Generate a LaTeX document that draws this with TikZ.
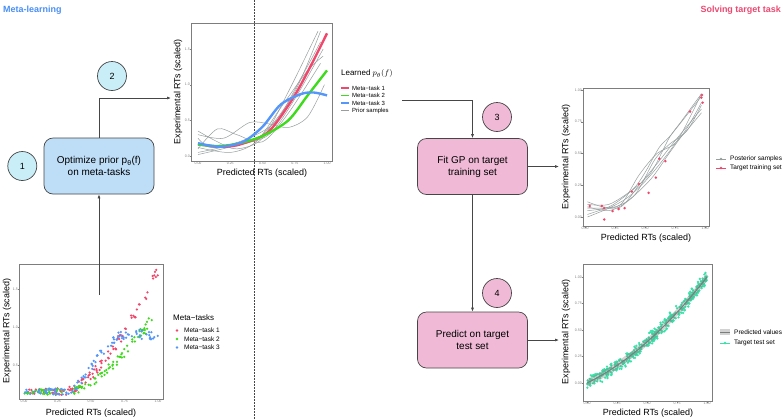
\documentclass[tikz,border=0pt]{standalone}
\usepackage{fontspec}
\setmainfont{Liberation Sans}
\usepackage{xcolor}
\definecolor{metablue}{RGB}{72,142,245}
\definecolor{targetpink}{RGB}{236,72,112}
\definecolor{boxblue}{RGB}{190,222,248}
\definecolor{boxpink}{RGB}{240,186,215}
\definecolor{numblue}{RGB}{202,238,248}
\definecolor{edgegray}{RGB}{70,70,70}
\definecolor{taskred}{RGB}{240,72,108}
\definecolor{taskgreen}{RGB}{62,218,28}
\definecolor{taskblue}{RGB}{84,150,250}
\definecolor{samplegray}{RGB}{150,158,158}
\definecolor{testteal}{RGB}{56,226,168}
\definecolor{framegray}{RGB}{125,125,125}
\usetikzlibrary{positioning,arrows.meta}

\begin{document}
\begin{tikzpicture}[x=1bp,y=-1bp,
    task/.style={draw=edgegray,rounded corners=9bp,minimum width=110bp,
      minimum height=56bp,align=center,line width=0.7bp,
      font=\fontsize{10}{12}\selectfont},
    num/.style={circle,draw=edgegray,minimum size=29bp,inner sep=0pt,
      line width=0.7bp,font=\fontsize{9}{10}\selectfont},
    conn/.style={-{Latex[length=4bp,width=3bp]},draw=edgegray,line width=0.7bp},
    head/.style={font=\bfseries\fontsize{9}{10}\selectfont,inner sep=0pt},
    panel/.style={draw=framegray,line width=0.5bp},
    tickmark/.style={draw=gray,line width=0.3bp},
    ticklab/.style={font=\fontsize{3.6}{4}\selectfont,text=gray,inner sep=1bp},
    axtitle/.style={font=\fontsize{9}{10}\selectfont,inner sep=0pt},
    legtitle/.style={font=\fontsize{8}{9}\selectfont,anchor=west,inner sep=0pt},
    legentry/.style={font=\fontsize{6.5}{7}\selectfont,anchor=west,inner sep=0pt}
  ]
  \useasboundingbox (0,0) rectangle (784,419);
  \pgfmathsetseed{2024}

  % headers and divider
  \node[head,text=metablue,anchor=west] (mlhead) at (3,10) {Meta-learning};
  \node[head,text=targetpink,anchor=east] (tthead) at (781,10) {Solving target task};
  \draw[edgegray,dash pattern=on 1.5bp off 1.5bp,line width=0.7bp] (254,0) -- (254,419);

  % learned prior panel
  \draw[panel] (191,23) rectangle (332,161);
  \begin{scope}[shift={(198,156)},x=129bp,y=71.3bp]
    \foreach \v [count=\k] in {0.00,0.25,0.50,0.75,1.00} {
      \draw[tickmark] (\v,-0.07) -- ++(0,-1.5bp);
      \node[ticklab,below] (lpx\k) at (\v,-0.07) {\v};
    }
    \foreach \v [count=\k] in {0.0,0.5,1.0,1.5} {
      \draw[tickmark] (-0.054,\v) -- ++(-1.5bp,0);
      \node[ticklab,left] (lpy\k) at (-0.054,\v) {\v};
    }
    \draw[samplegray,line width=0.5bp] plot[smooth] coordinates {(0,0.05) (0.25,0.15) (0.5,0.3) (0.75,0.9) (0.95,1.75)};
    \draw[samplegray,line width=0.5bp] plot[smooth] coordinates {(0,0.35) (0.15,0.2) (0.3,0.1) (0.5,0.25) (0.7,0.9) (0.93,1.75)};
    \draw[samplegray,line width=0.5bp] plot[smooth] coordinates {(0,0.1) (0.15,0.38) (0.3,0.3) (0.5,0.2) (0.7,0.6) (0.95,1.3)};
    \draw[samplegray,line width=0.5bp] plot[smooth] coordinates {(0,0.3) (0.2,0.25) (0.4,0.47) (0.55,0.45) (0.7,0.4) (0.85,0.55) (0.98,1.0)};
    \draw[samplegray,line width=0.5bp] plot[smooth] coordinates {(0,0.02) (0.3,0.15) (0.55,0.3) (0.75,0.8) (0.97,1.5)};
    \draw[samplegray,line width=0.5bp] plot[smooth] coordinates {(0,0.25) (0.1,0.12) (0.35,0.22) (0.6,0.48) (0.8,1.1) (0.95,1.6)};
    \draw[samplegray,line width=0.5bp] plot[smooth] coordinates {(0,0.12) (0.25,0.05) (0.45,0.2) (0.65,0.7) (0.85,1.2) (0.97,1.4)};
    \draw[taskred,line width=2.4bp] plot[smooth] coordinates {(0,0.17) (0.15,0.13) (0.3,0.15) (0.5,0.28) (0.6,0.45) (0.75,0.85) (0.87,1.25) (1,1.72)};
    \draw[taskgreen,line width=2.4bp] plot[smooth] coordinates {(0,0.16) (0.15,0.14) (0.3,0.17) (0.5,0.28) (0.7,0.5) (0.85,0.85) (1,1.2)};
    \draw[taskblue,line width=2.4bp] plot[smooth] coordinates {(0,0.18) (0.17,0.13) (0.35,0.2) (0.5,0.41) (0.64,0.72) (0.8,0.87) (0.9,0.89) (1,0.85)};
  \end{scope}
  \node[axtitle] (lpxlab) at (262,173) {Predicted RTs (scaled)};
  \node[axtitle,rotate=90] (lpylab) at (178,92) {Experimental RTs (scaled)};
  \node[legtitle] (lpkey) at (341,74) {Learned $p_\theta(f)$};
  \foreach \c/\t [count=\k] in {taskred/Meta−task 1,taskgreen/Meta−task 2,taskblue/Meta−task 3,samplegray/Prior samples} {
    \draw[\c,line width=1.6bp] (341,{80.5+7.5*\k}) -- (349,{80.5+7.5*\k});
    \node[legentry,font=\fontsize{6}{7}\selectfont] (lpkey\k) at (352,{80.5+7.5*\k}) {\t};
  }

  % meta-task data panel
  \draw[panel] (19,264) rectangle (163,399);
  \begin{scope}[shift={(24,403)},x=134bp,y=76bp]
    \foreach \v [count=\k] in {0.00,0.25,0.50,0.75,1.00} {
      \draw[tickmark] (\v,0.053) -- ++(0,-1.5bp);
      \node[ticklab,below] (mdx\k) at (\v,0.053) {\v};
    }
    \foreach \v [count=\k] in {0.5,1.0,1.5} {
      \draw[tickmark] (-0.037,\v) -- ++(-1.5bp,0);
      \node[ticklab,left] (mdy\k) at (-0.037,\v) {\v};
    }
    \foreach \i in {1,...,110} {
      \pgfmathsetmacro\px{rnd}
      \pgfmathsetmacro\py{0.15+1.6*max(0.0001,(\px-0.3)/0.7)^1.6+(0.03+0.06*\px)*rand}
      \fill[taskred] (\px,\py) circle[radius=1.25bp];
    }
    \foreach \i in {1,...,110} {
      \pgfmathsetmacro\px{rnd}
      \pgfmathsetmacro\py{0.15+1.05*max(0.0001,(\px-0.35)/0.65)^1.5+(0.03+0.05*\px)*rand}
      \fill[taskgreen] (\px,\py) circle[radius=1.25bp];
    }
    \foreach \i in {1,...,110} {
      \pgfmathsetmacro\px{rnd}
      \pgfmathsetmacro\st{min(1,max(0,(\px-0.3)/0.45))}
      \pgfmathsetmacro\py{0.15+0.75*(3*\st*\st-2*\st*\st*\st)+(0.03+0.05*\px)*rand}
      \fill[taskblue] (\px,\py) circle[radius=1.25bp];
    }
  \end{scope}
  \node[axtitle] (mdxlab) at (91,413) {Predicted RTs (scaled)};
  \node[axtitle,rotate=90] (mdylab) at (7,331) {Experimental RTs (scaled)};
  \node[legtitle] (mdkey) at (173,318) {Meta−tasks};
  \foreach \c/\t [count=\k] in {taskred/Meta−task 1,taskgreen/Meta−task 2,taskblue/Meta−task 3} {
    \fill[\c] (177,{322+8.5*\k}) circle[radius=1.4bp];
    \node[legentry] (mdkey\k) at (184,{322+8.5*\k}) {\t};
  }

  % target training panel
  \draw[panel] (583,88) rectangle (709,226);
  \begin{scope}[shift={(585,217)},x=120bp,y=127bp]
    \foreach \v [count=\k] in {0.00,0.25,0.50,0.75,1.00} {
      \draw[tickmark] (\v,-0.071) -- ++(0,-1.5bp);
      \node[ticklab,below] (trx\k) at (\v,-0.071) {\v};
      \draw[tickmark] (-0.017,\v) -- ++(-1.5bp,0);
      \node[ticklab,left] (try\k) at (-0.017,\v) {\v};
    }
    \draw[samplegray,line width=0.5bp] plot[smooth] coordinates {(0.02,0.0) (0.2,0.07) (0.35,0.15) (0.5,0.28) (0.65,0.45) (0.8,0.65) (0.97,0.97)};
    \draw[samplegray,line width=0.5bp] plot[smooth] coordinates {(0.02,0.12) (0.15,0.08) (0.3,0.08) (0.45,0.25) (0.6,0.42) (0.75,0.6) (0.97,0.85)};
    \draw[samplegray,line width=0.5bp] plot[smooth] coordinates {(0.02,0.05) (0.2,0.08) (0.38,0.2) (0.55,0.35) (0.7,0.62) (0.8,0.75) (0.97,0.97)};
    \draw[samplegray,line width=0.5bp] plot[smooth] coordinates {(0.02,0.02) (0.15,0.06) (0.3,0.1) (0.45,0.33) (0.6,0.5) (0.75,0.58) (0.97,0.82)};
    \draw[samplegray,line width=0.5bp] plot[smooth] coordinates {(0.02,0.08) (0.2,0.05) (0.35,0.12) (0.55,0.3) (0.7,0.5) (0.85,0.7) (0.97,0.9)};
    \draw[samplegray,line width=0.5bp] plot[smooth] coordinates {(0.02,0.1) (0.2,0.1) (0.4,0.22) (0.5,0.35) (0.62,0.55) (0.72,0.65) (0.97,0.95)};
    \draw[samplegray,line width=0.5bp] plot[smooth] coordinates {(0.02,0.07) (0.25,0.08) (0.42,0.18) (0.58,0.45) (0.7,0.57) (0.85,0.68) (0.97,0.88)};
    \foreach \a/\b in {0.04/0.087,0.14/0.087,0.16/0.07,0.16/-0.02,0.23/0.047,0.28/0.063,0.33/0.07,0.39/0.2,0.45/0.26,0.53/0.19,0.59/0.31,0.62/0.46,0.67/0.44,0.875/0.83,0.97/0.94,0.975/0.96,0.98/0.9}
      \fill[taskred] (\a,\b) circle[radius=1.4bp];
  \end{scope}
  \node[axtitle] (trxlab) at (646,238) {Predicted RTs (scaled)};
  \node[axtitle,rotate=90] (trylab) at (566,157) {Experimental RTs (scaled)};
  \draw[samplegray,line width=0.7bp] (716,159) -- (726,159);
  \fill[samplegray] (721,159) circle[radius=1.3bp];
  \node[legentry] (trkey1) at (730,159) {Posterior samples};
  \draw[taskred,line width=0.7bp] (716,168) -- (726,168);
  \fill[taskred] (721,168) circle[radius=1.3bp];
  \node[legentry] (trkey2) at (730,168) {Target training set};

  % target test panel
  \draw[panel] (583,264) rectangle (712,401);
  \begin{scope}[shift={(587,383)},x=120bp,y=106bp]
    \foreach \v [count=\k] in {0.00,0.25,0.50,0.75,1.00} {
      \draw[tickmark] (\v,-0.17) -- ++(0,-1.5bp);
      \node[ticklab,below] (tsx\k) at (\v,-0.17) {\v};
      \draw[tickmark] (-0.033,\v) -- ++(-1.5bp,0);
      \node[ticklab,left] (tsy\k) at (-0.033,\v) {\v};
    }
    \foreach \i in {1,...,400} {
      \pgfmathsetmacro\px{rnd}
      \pgfmathsetmacro\py{0.55*\px+0.45*\px*\px+0.055*rand+0.02*rand}
      \fill[testteal] (\px,\py) circle[radius=1.3bp];
    }
    \fill[gray,opacity=0.35] plot[domain=0:1,samples=25] (\x,{0.55*\x+0.45*\x*\x+0.035})
      -- plot[domain=1:0,samples=25] (\x,{0.55*\x+0.45*\x*\x-0.035}) -- cycle;
    \draw[samplegray!80!black,line width=1bp] plot[domain=0:1,samples=25,smooth] (\x,{0.55*\x+0.45*\x*\x});
  \end{scope}
  \node[axtitle] (tsxlab) at (648,413) {Predicted RTs (scaled)};
  \node[axtitle,rotate=90] (tsylab) at (566,332) {Experimental RTs (scaled)};
  \fill[gray!35] (720,329) rectangle (730,335);
  \draw[samplegray!80!black,line width=1bp] (720,332) -- (730,332);
  \node[legentry] (tskey1) at (734,332) {Predicted values};
  \draw[testteal,line width=0.7bp] (720,343) -- (730,343);
  \fill[testteal] (725,343) circle[radius=1.3bp];
  \node[legentry] (tskey2) at (734,343) {Target test set};

  % steps
  \node[task,fill=boxblue] (opt) at (99,166) {Optimize prior p\textsubscript{θ}(f)\\on meta-tasks};
  \node[num,fill=numblue,left=6.5bp of opt] (n1) {1};
  \node[num,fill=numblue] (n2) at (112,76) {2};
  \node[task,fill=boxpink] (fit) at (472.5,166.5) {Fit GP on target\\training set};
  \node[num,fill=boxpink] (n3) at (497,117) {3};
  \node[task,fill=boxpink] (pred) at (472.5,340) {Predict on target\\test set};
  \node[num,fill=boxpink] (n4) at (497,293) {4};

  % connectors
  \coordinate (mlout) at (99,295);
  \coordinate (priorin) at (171,98);
  \coordinate (priorout) at (402,100);
  \coordinate (trainin) at (559,166.5);
  \coordinate (testin) at (559,340);
  \draw[conn] (mlout) -- (opt.south);
  \draw[conn] (opt.north) |- (priorin);
  \draw[conn] (priorout) -| (fit.north);
  \draw[conn] (fit.east) -- (trainin);
  \draw[conn] (fit.south) -- (pred.north);
  \draw[conn] (pred.east) -- (testin);
\end{tikzpicture}
\end{document}
